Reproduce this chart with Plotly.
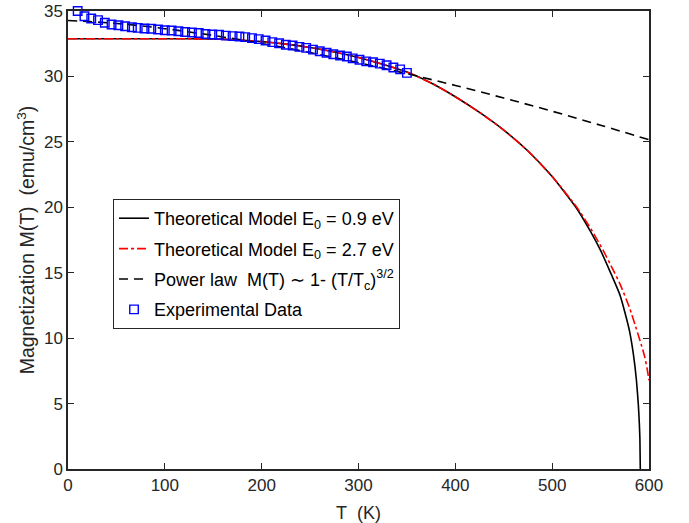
import plotly.graph_objects as go

T_exp = [10, 17, 24, 31, 38, 45, 52, 59, 66, 72, 79, 86, 93, 100, 107, 114, 121, 128, 135, 142,
         149, 156, 163, 170, 177, 183, 190, 197, 204, 211, 218, 225, 232, 239, 246, 253, 260, 267, 274, 281,
         288, 294, 301, 308, 315, 322, 329, 336, 343, 350]
M_exp = [35.0, 34.6, 34.43, 34.3, 34.1, 33.97, 33.91, 33.84, 33.76, 33.71, 33.66, 33.64, 33.59, 33.53, 33.51, 33.45, 33.40, 33.36, 33.32, 33.24,
         33.2, 33.18, 33.12, 33.08, 33.05, 33.0, 32.93, 32.85, 32.75, 32.62, 32.53, 32.42, 32.36, 32.26, 32.18, 32.05, 31.92, 31.81, 31.69, 31.6,
         31.52, 31.38, 31.27, 31.15, 31.08, 30.98, 30.85, 30.68, 30.54, 30.27]

# Theoretical model E0 = 0.9 eV (black solid)
T_m1 = [0, 50, 100, 150, 175, 200, 225, 250, 275, 300, 325, 350, 375, 400, 425, 450, 475, 500, 525, 540,
        550, 560, 570, 575, 580, 584, 587, 589, 590, 590.6, 591]
M_m1 = [32.88, 32.88, 32.88, 32.86, 32.79, 32.66, 32.47, 32.21, 31.87, 31.45, 30.93, 30.33, 29.5, 28.45, 27.25, 25.9, 24.3, 22.35, 19.95, 18.1,
        16.7, 15.05, 13.3, 12.0, 10.5, 8.7, 6.8, 4.9, 3.5, 2.3, 0.0]

# Theoretical model E0 = 2.7 eV (red dash-dot)
T_m2 = [0, 50, 100, 150, 175, 200, 225, 250, 275, 300, 325, 350, 375, 400, 425, 450, 475, 500, 525, 540,
        552.5, 560, 570, 580, 587, 592, 595.6, 598, 600]
M_m2 = [32.88, 32.88, 32.88, 32.86, 32.79, 32.66, 32.47, 32.21, 31.87, 31.45, 30.93, 30.33, 29.5, 28.45, 27.25, 25.9, 24.3, 22.35, 20.05, 18.35,
        16.73, 15.65, 14.15, 12.3, 10.7, 9.5, 8.57, 7.7, 6.78]

# Power law (black dashed)
T_pl = [0, 50, 100, 150, 200, 250, 300, 350, 400, 450, 500, 550, 600]
M_pl = [34.27, 34.05, 33.65, 33.13, 32.52, 31.82, 31.05, 30.21, 29.31, 28.35, 27.34, 26.27, 25.16]

x_ticks = [0, 100, 200, 300, 400, 500, 600]
y_ticks = [0, 5, 10, 15, 20, 25, 30, 35]

axc = "#262626"
FONT = "Liberation Sans, Arial, Helvetica, sans-serif"

fig = go.Figure()
fig.add_trace(go.Scatter(x=T_m1, y=M_m1, mode="lines", line=dict(color="black", width=1.6, shape="spline", smoothing=0.5),
                         name="Theoretical Model E<sub>0</sub> = 0.9 eV", legendgroup="a"))
fig.add_trace(go.Scatter(x=T_m2, y=M_m2, mode="lines", line=dict(color="red", width=1.6, dash="dashdot", shape="spline", smoothing=0.5),
                         name="Theoretical Model E<sub>0</sub> = 2.7 eV", legendgroup="b"))
fig.add_trace(go.Scatter(x=T_pl, y=M_pl, mode="lines", line=dict(color="black", width=1.6, dash="9px,6px", shape="spline"),
                         name="Power law\u00a0 M(T) \u223c 1- (T/T<sub>c</sub>)<sup>3/2</sup>", legendgroup="c"))
fig.add_trace(go.Scatter(x=T_exp, y=M_exp, mode="markers", cliponaxis=False,
                         marker=dict(symbol="square-open", size=8.5, color="blue", line=dict(width=1.4, color="blue")),
                         name="Experimental Data", legendgroup="d"))

fig.update_layout(
    width=689, height=523,
    margin=dict(l=68, r=40, t=11, b=54),
    paper_bgcolor="white", plot_bgcolor="white",
    font=dict(family=FONT, size=17, color=axc),
    showlegend=True,
    legend=dict(x=0.0775, y=0.5895, xanchor="left", yanchor="top",
                bordercolor=axc, borderwidth=1, bgcolor="white",
                font=dict(size=18, color="black"), tracegroupgap=4, itemwidth=30),
    annotations=[dict(text="T\u00a0 (K)", xref="paper", yref="paper", x=0.5, y=0,
                      xanchor="center", yanchor="middle", yshift=-44, showarrow=False,
                      font=dict(size=18, color=axc))],
)
fig.update_xaxes(range=[0, 600], tickvals=x_ticks, ticks="inside", ticklen=6, tickwidth=1.3,
                 tickcolor=axc, showline=True, linecolor=axc, linewidth=1.5, mirror="ticks",
                 showgrid=False, zeroline=False, automargin=False)
fig.update_yaxes(range=[0, 35], tickvals=y_ticks, ticks="inside", ticklen=6, tickwidth=1.3,
                 tickcolor=axc, showline=True, linecolor=axc, linewidth=1.5, mirror="ticks",
                 showgrid=False, zeroline=False, automargin=False,
                 title=dict(text="Magnetization M(T)\u00a0 (emu/cm<sup>3</sup>)", standoff=4, font=dict(size=19.5)))

fig.write_html("out.html")
